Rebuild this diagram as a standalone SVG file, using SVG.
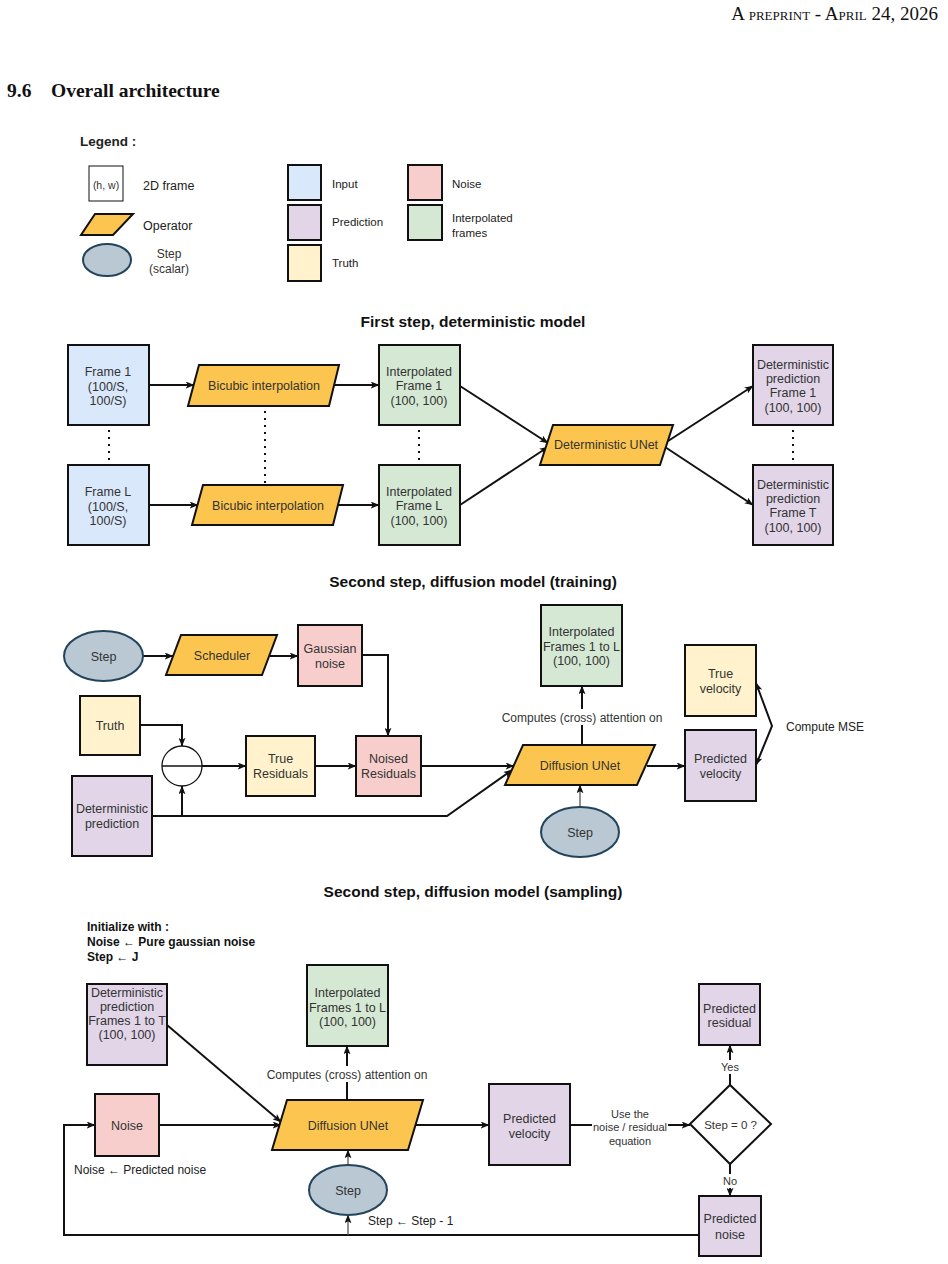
<svg xmlns="http://www.w3.org/2000/svg" width="948" height="1264" viewBox="0 0 948 1264">
  <defs>
    <style>
      .bg { fill: #ffffff; }
      .hand { font-family: "Comic Sans MS", "Liberation Sans", sans-serif; font-size: 12.5px; fill: #333333; text-anchor: middle; }
      .handL { font-family: "Comic Sans MS", "Liberation Sans", sans-serif; font-size: 12.5px; fill: #222222; }
      .title { font-family: "Comic Sans MS", "Liberation Sans", sans-serif; font-size: 15.5px; font-weight: bold; fill: #111111; text-anchor: middle; }
      .sans { font-family: "Liberation Sans", Arial, sans-serif; font-size: 11.5px; fill: #222222; }
      .sansB { font-family: "Liberation Sans", Arial, sans-serif; font-size: 12px; font-weight: bold; fill: #111111; }
      .box { stroke: #111111; stroke-width: 2; }
      .input { fill: #dae8fc; }
      .pred { fill: #e1d5e7; }
      .truth { fill: #fff2cc; }
      .noise { fill: #f8cecc; }
      .interp { fill: #d5e8d4; }
      .op { fill: #fbc54f; stroke: #111111; stroke-width: 2; }
      .step { fill: #bac8d3; stroke: #23445d; stroke-width: 2; }
      .edge { fill: none; stroke: #111111; stroke-width: 2; }
      .thin { fill: none; stroke: #555555; stroke-width: 1.3; }
      .dots { fill: none; stroke: #111111; stroke-width: 2; stroke-dasharray: 2 5; }
    </style>
    <marker id="arr" viewBox="0 0 10 8" refX="9.5" refY="4" markerWidth="9" markerHeight="7" orient="auto-start-reverse" markerUnits="userSpaceOnUse">
      <path d="M0,0 L10,4 L0,8 L2.5,4 z" fill="#111111"/>
    </marker>
  </defs>

  <rect class="bg" x="0" y="0" width="948" height="1264"/>

  <!-- page header and section heading -->
  <text x="938" y="20" text-anchor="end" style="font-family:'Liberation Serif',serif;font-size:19px;font-variant:small-caps;fill:#111">A preprint - April 24, 2026</text>
  <text x="7" y="97" style="font-family:'Liberation Serif',serif;font-size:19.5px;font-weight:bold;fill:#111">9.6</text>
  <text x="51" y="97" style="font-family:'Liberation Serif',serif;font-size:19.5px;font-weight:bold;fill:#111">Overall architecture</text>

  <!-- legend -->
  <g id="legend">
    <text x="80" y="146" class="handL" style="font-weight:bold;font-size:13.5px">Legend :</text>
    <rect x="89" y="166" width="34" height="35" fill="#fff" stroke="#111" stroke-width="1"/>
    <text x="106" y="189" class="hand" style="font-size:10.5px">(h, w)</text>
    <text x="143" y="190" class="handL">2D frame</text>
    <polygon points="95,214 133,214 113,235 81,235" class="op"/>
    <text x="143" y="230" class="handL">Operator</text>
    <ellipse cx="107" cy="260" rx="24" ry="16" class="step"/>
    <text x="169" y="258" class="hand" style="font-size:12px">Step</text>
    <text x="169" y="273" class="hand" style="font-size:12px">(scalar)</text>

    <rect x="288" y="165" width="33" height="35" class="box input"/>
    <text x="332" y="188" class="sans">Input</text>
    <rect x="288" y="205" width="33" height="35" class="box pred"/>
    <text x="332" y="226" class="sans">Prediction</text>
    <rect x="288" y="245" width="33" height="36" class="box truth"/>
    <text x="332" y="267" class="sans">Truth</text>
    <rect x="408" y="165" width="34" height="35" class="box noise"/>
    <text x="452" y="188" class="sans">Noise</text>
    <rect x="408" y="205" width="34" height="35" class="box interp"/>
    <text x="452" y="222" class="sans">Interpolated</text>
    <text x="452" y="237" class="sans">frames</text>
  </g>

  <!-- ===== First step, deterministic model ===== -->
  <text x="473" y="327" class="title">First step, deterministic model</text>

  <g id="s1-connectors">
    <line x1="149" y1="385" x2="194" y2="385" class="edge" marker-end="url(#arr)"/>
    <line x1="334" y1="385" x2="379" y2="385" class="edge" marker-end="url(#arr)"/>
    <line x1="149" y1="505" x2="198" y2="505" class="edge" marker-end="url(#arr)"/>
    <line x1="338" y1="505" x2="379" y2="505" class="edge" marker-end="url(#arr)"/>
    <line x1="460" y1="386" x2="548" y2="443" class="edge" marker-end="url(#arr)"/>
    <line x1="460" y1="505" x2="548" y2="447" class="edge" marker-end="url(#arr)"/>
    <line x1="665" y1="443" x2="753" y2="386" class="edge" marker-end="url(#arr)"/>
    <line x1="665" y1="447" x2="753" y2="505" class="edge" marker-end="url(#arr)"/>
    <line x1="109" y1="430" x2="109" y2="465" class="dots"/>
    <line x1="265" y1="411" x2="265" y2="485" class="dots"/>
    <line x1="419" y1="430" x2="419" y2="465" class="dots"/>
    <line x1="793" y1="430" x2="793" y2="465" class="dots"/>
  </g>

  <g id="s1-frame1">
    <rect x="68" y="345" width="81" height="80" class="box input"/>
    <text x="108" y="376" class="hand">Frame 1</text>
    <text x="108" y="391" class="hand">(100/S,</text>
    <text x="108" y="405" class="hand">100/S)</text>
  </g>
  <g id="s1-frameL">
    <rect x="68" y="465" width="81" height="80" class="box input"/>
    <text x="108" y="496" class="hand">Frame L</text>
    <text x="108" y="511" class="hand">(100/S,</text>
    <text x="108" y="525" class="hand">100/S)</text>
  </g>
  <g id="s1-bicubic1">
    <polygon points="199,365 339,365 329,406 188,406" class="op"/>
    <text x="264" y="390" class="hand">Bicubic interpolation</text>
  </g>
  <g id="s1-bicubic2">
    <polygon points="203,485 343,485 333,525 192,525" class="op"/>
    <text x="268" y="510" class="hand">Bicubic interpolation</text>
  </g>
  <g id="s1-interp1">
    <rect x="379" y="345" width="81" height="80" class="box interp"/>
    <text x="419" y="376" class="hand">Interpolated</text>
    <text x="419" y="390" class="hand">Frame 1</text>
    <text x="419" y="405" class="hand">(100, 100)</text>
  </g>
  <g id="s1-interpL">
    <rect x="379" y="465" width="81" height="80" class="box interp"/>
    <text x="419" y="496" class="hand">Interpolated</text>
    <text x="419" y="510" class="hand">Frame L</text>
    <text x="419" y="525" class="hand">(100, 100)</text>
  </g>
  <g id="s1-unet">
    <polygon points="553,425 673,425 660,465 540,465" class="op"/>
    <text x="606" y="449" class="hand">Deterministic UNet</text>
  </g>
  <g id="s1-det1">
    <rect x="753" y="345" width="80" height="80" class="box pred"/>
    <text x="793" y="369" class="hand">Deterministic</text>
    <text x="793" y="383" class="hand">prediction</text>
    <text x="793" y="397" class="hand">Frame 1</text>
    <text x="793" y="412" class="hand">(100, 100)</text>
  </g>
  <g id="s1-detT">
    <rect x="753" y="465" width="80" height="80" class="box pred"/>
    <text x="793" y="489" class="hand">Deterministic</text>
    <text x="793" y="503" class="hand">prediction</text>
    <text x="793" y="517" class="hand">Frame T</text>
    <text x="793" y="532" class="hand">(100, 100)</text>
  </g>

  <!-- ===== Second step, diffusion model (training) ===== -->
  <text x="473" y="587" class="title">Second step, diffusion model (training)</text>

  <g id="s2-connectors">
    <line x1="143" y1="656" x2="173" y2="656" class="edge" marker-end="url(#arr)"/>
    <line x1="270" y1="656" x2="298" y2="656" class="edge" marker-end="url(#arr)"/>
    <polyline points="362,655 388,655 388,736" class="edge" marker-end="url(#arr)"/>
    <polyline points="140,725 182,725 182,746" class="edge" marker-end="url(#arr)"/>
    <line x1="202" y1="766" x2="246" y2="766" class="edge" marker-end="url(#arr)"/>
    <line x1="315" y1="766" x2="356" y2="766" class="edge" marker-end="url(#arr)"/>
    <line x1="421" y1="766" x2="514" y2="766" class="edge" marker-end="url(#arr)"/>
    <polyline points="152,816 447,816 512,770" class="edge" marker-end="url(#arr)"/>
    <line x1="182" y1="816" x2="182" y2="786" class="edge" marker-end="url(#arr)"/>
    <line x1="582" y1="745" x2="582" y2="686" class="edge" marker-end="url(#arr)"/>
    <line x1="647" y1="766" x2="685" y2="766" class="edge" marker-end="url(#arr)"/>
    <line x1="580" y1="807" x2="580" y2="785" class="thin" marker-end="url(#arr)"/>
    <polyline points="756,683 772,726 756,765" class="edge" marker-start="url(#arr)" marker-end="url(#arr)"/>
    <rect x="497" y="709" width="170" height="16" fill="#fff"/>
    <text x="582" y="722" class="hand" style="font-size:12px">Computes (cross) attention on</text>
    <text x="786" y="731" class="handL" style="font-size:12px">Compute MSE</text>
  </g>

  <g id="s2-step">
    <ellipse cx="103.5" cy="656" rx="39.5" ry="25" class="step"/>
    <text x="103.5" y="661" class="hand">Step</text>
  </g>
  <g id="s2-scheduler">
    <polygon points="181,635 277,635 262,675 166,675" class="op"/>
    <text x="222" y="660" class="hand">Scheduler</text>
  </g>
  <g id="s2-gaussian">
    <rect x="298" y="625" width="64" height="61" class="box noise"/>
    <text x="330" y="653" class="hand">Gaussian</text>
    <text x="330" y="668" class="hand">noise</text>
  </g>
  <g id="s2-truth">
    <rect x="80" y="696" width="60" height="59" class="box truth"/>
    <text x="110" y="730" class="hand">Truth</text>
  </g>
  <g id="s2-minus">
    <circle cx="182" cy="766" r="20" fill="#fff" stroke="#111" stroke-width="1.3"/>
    <line x1="162" y1="766" x2="202" y2="766" stroke="#111" stroke-width="1.3"/>
  </g>
  <g id="s2-trueres">
    <rect x="246" y="736" width="69" height="60" class="box truth"/>
    <text x="280.5" y="763" class="hand">True</text>
    <text x="280.5" y="778" class="hand">Residuals</text>
  </g>
  <g id="s2-noisedres">
    <rect x="356" y="736" width="65" height="60" class="box noise"/>
    <text x="388.5" y="763" class="hand">Noised</text>
    <text x="388.5" y="778" class="hand">Residuals</text>
  </g>
  <g id="s2-detpred">
    <rect x="72" y="776" width="80" height="80" class="box pred"/>
    <text x="112" y="813" class="hand">Deterministic</text>
    <text x="112" y="828" class="hand">prediction</text>
  </g>
  <g id="s2-interp">
    <rect x="541" y="605" width="81" height="81" class="box interp"/>
    <text x="581.5" y="636" class="hand">Interpolated</text>
    <text x="581.5" y="651" class="hand">Frames 1 to L</text>
    <text x="581.5" y="665" class="hand">(100, 100)</text>
  </g>
  <g id="s2-unet">
    <polygon points="523,745 655,745 637,785 505,785" class="op"/>
    <text x="580" y="770" class="hand">Diffusion UNet</text>
  </g>
  <g id="s2-truevel">
    <rect x="685" y="645" width="71" height="71" class="box truth"/>
    <text x="720.5" y="678" class="hand">True</text>
    <text x="720.5" y="693" class="hand">velocity</text>
  </g>
  <g id="s2-predvel">
    <rect x="685" y="730" width="71" height="71" class="box pred"/>
    <text x="720.5" y="763" class="hand">Predicted</text>
    <text x="720.5" y="778" class="hand">velocity</text>
  </g>
  <g id="s2-step2">
    <ellipse cx="580" cy="832" rx="39" ry="25" class="step"/>
    <text x="580" y="837" class="hand">Step</text>
  </g>

  <!-- ===== Second step, diffusion model (sampling) ===== -->
  <text x="473" y="897" class="title">Second step, diffusion model (sampling)</text>

  <g id="s3-init">
    <text x="87" y="931" class="sansB">Initialize with :</text>
    <text x="87" y="946" class="sansB">Noise ← Pure gaussian noise</text>
    <text x="87" y="961" class="sansB">Step ← J</text>
  </g>

  <g id="s3-connectors">
    <line x1="167" y1="1025" x2="281" y2="1122" class="edge" marker-end="url(#arr)"/>
    <line x1="159" y1="1125" x2="281" y2="1125" class="edge" marker-end="url(#arr)"/>
    <line x1="347" y1="1100" x2="347" y2="1046" class="edge" marker-end="url(#arr)"/>
    <line x1="416" y1="1125" x2="489" y2="1125" class="edge" marker-end="url(#arr)"/>
    <line x1="570" y1="1125" x2="690" y2="1125" class="edge" marker-end="url(#arr)"/>
    <line x1="730" y1="1085" x2="730" y2="1045" class="edge" marker-end="url(#arr)"/>
    <line x1="730" y1="1164" x2="730" y2="1196" class="edge" marker-end="url(#arr)"/>
    <polyline points="699,1235 64,1235 64,1125 95,1125" class="edge" marker-end="url(#arr)"/>
    <line x1="348" y1="1235" x2="348" y2="1215" class="thin" marker-end="url(#arr)"/>
    <line x1="348" y1="1165" x2="348" y2="1150" class="thin" marker-end="url(#arr)"/>
    <rect x="262" y="1066" width="170" height="16" fill="#fff"/>
    <text x="347" y="1079" class="hand" style="font-size:12px">Computes (cross) attention on</text>
    <rect x="592" y="1104" width="76" height="42" fill="#fff"/>
    <text x="630" y="1118" class="hand" style="font-size:11px">Use the</text>
    <text x="630" y="1131" class="hand" style="font-size:11px">noise / residual</text>
    <text x="630" y="1145" class="hand" style="font-size:11px">equation</text>
    <rect x="719" y="1060" width="22" height="14" fill="#fff"/>
    <text x="730" y="1071" class="hand" style="font-size:11px">Yes</text>
    <rect x="721" y="1174" width="18" height="14" fill="#fff"/>
    <text x="730" y="1185" class="hand" style="font-size:11px">No</text>
    <text x="74" y="1174" class="sans" style="font-size:12px">Noise ← Predicted noise</text>
    <text x="368" y="1225" class="sans" style="font-size:12px">Step ← Step - 1</text>
  </g>

  <g id="s3-detpred">
    <rect x="87" y="984" width="80" height="81" class="box pred"/>
    <text x="127" y="997" class="hand">Deterministic</text>
    <text x="127" y="1011" class="hand">prediction</text>
    <text x="127" y="1025" class="hand">Frames 1 to T</text>
    <text x="127" y="1039" class="hand">(100, 100)</text>
  </g>
  <g id="s3-interp">
    <rect x="307" y="965" width="81" height="81" class="box interp"/>
    <text x="347.5" y="997" class="hand">Interpolated</text>
    <text x="347.5" y="1012" class="hand">Frames 1 to L</text>
    <text x="347.5" y="1026" class="hand">(100, 100)</text>
  </g>
  <g id="s3-noise">
    <rect x="95" y="1094" width="64" height="62" class="box noise"/>
    <text x="127" y="1130" class="hand">Noise</text>
  </g>
  <g id="s3-unet">
    <polygon points="287,1100 423,1100 408,1150 272,1150" class="op"/>
    <text x="348" y="1130" class="hand">Diffusion UNet</text>
  </g>
  <g id="s3-step">
    <ellipse cx="348" cy="1190" rx="39" ry="25" class="step"/>
    <text x="348" y="1195" class="hand">Step</text>
  </g>
  <g id="s3-predvel">
    <rect x="489" y="1084" width="81" height="81" class="box pred"/>
    <text x="529.5" y="1123" class="hand">Predicted</text>
    <text x="529.5" y="1138" class="hand">velocity</text>
  </g>
  <g id="s3-decision">
    <polygon points="690,1124 730,1085 771,1124 730,1164" fill="#fff" stroke="#111" stroke-width="2"/>
    <text x="730.5" y="1129" class="hand" style="font-size:11.5px">Step = 0 ?</text>
  </g>
  <g id="s3-predres">
    <rect x="699" y="984" width="61" height="61" class="box pred"/>
    <text x="729.5" y="1013" class="hand">Predicted</text>
    <text x="729.5" y="1027" class="hand">residual</text>
  </g>
  <g id="s3-prednoise">
    <rect x="699" y="1196" width="62" height="60" class="box pred"/>
    <text x="730" y="1223" class="hand">Predicted</text>
    <text x="730" y="1239" class="hand">noise</text>
  </g>
</svg>
